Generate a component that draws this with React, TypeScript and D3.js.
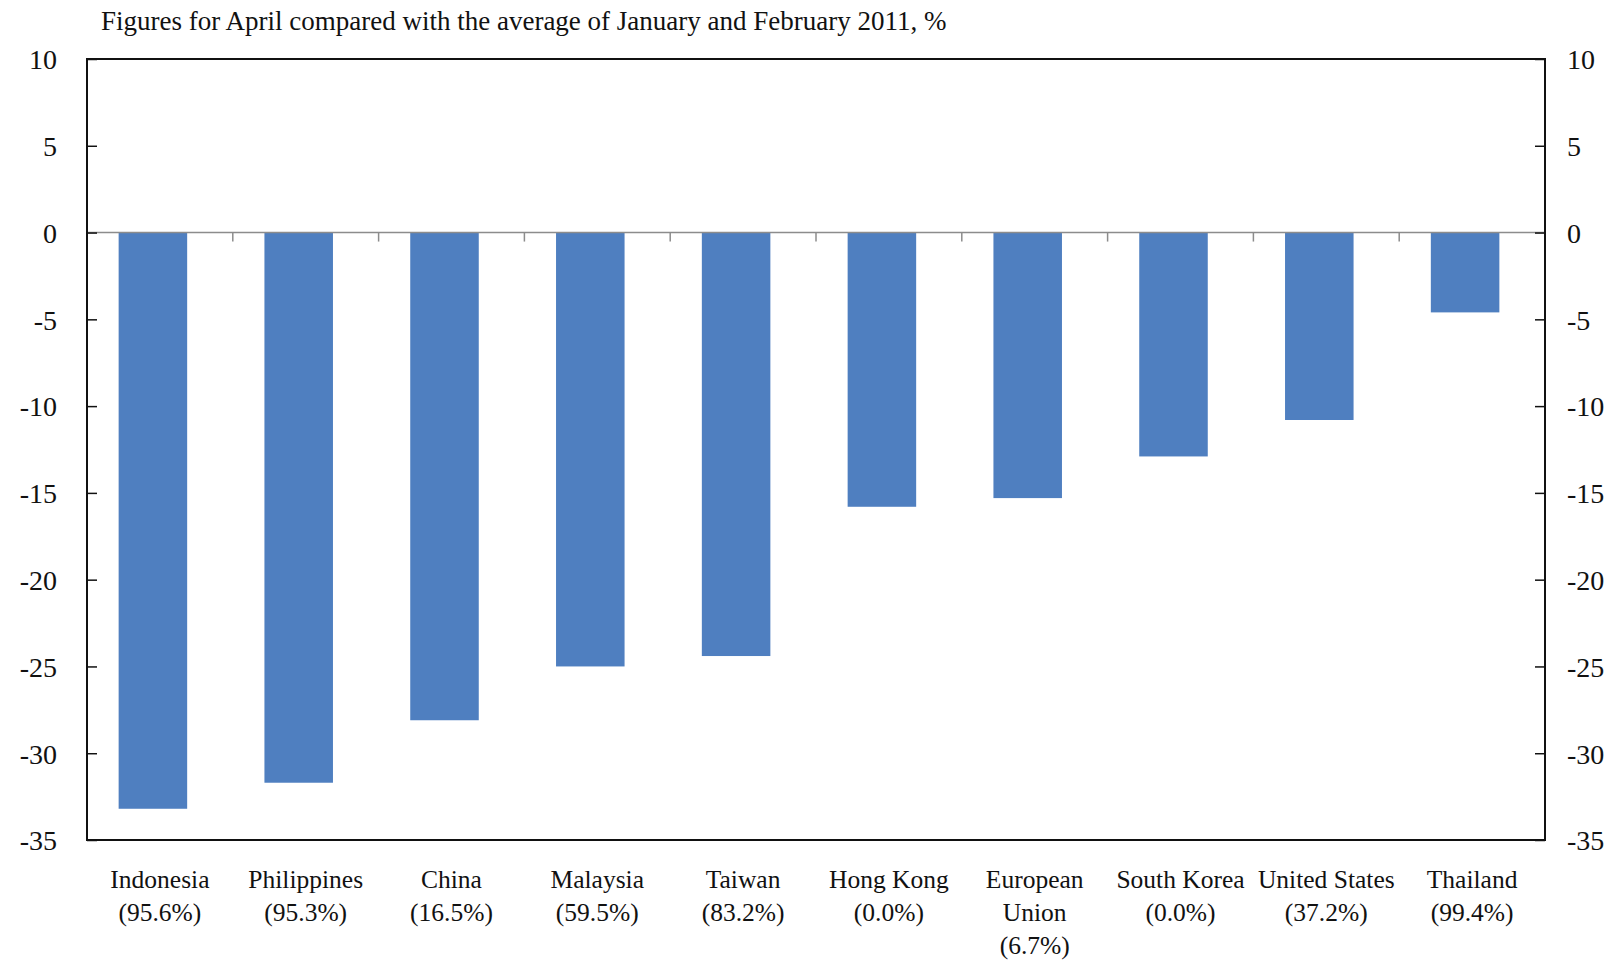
import { useEffect, useRef } from 'react';
import * as d3 from 'd3';

const countries = ['Indonesia', 'Philippines', 'China', 'Malaysia', 'Taiwan', 'Hong Kong', 'European Union', 'South Korea', 'United States', 'Thailand'];
const labelLines = [
  ['Indonesia', '(95.6%)'],
  ['Philippines', '(95.3%)'],
  ['China', '(16.5%)'],
  ['Malaysia', '(59.5%)'],
  ['Taiwan', '(83.2%)'],
  ['Hong Kong', '(0.0%)'],
  ['European', 'Union', '(6.7%)'],
  ['South Korea', '(0.0%)'],
  ['United States', '(37.2%)'],
  ['Thailand', '(99.4%)'],
];
const changes = [-33.2, -31.7, -28.1, -25.0, -24.4, -15.8, -15.3, -12.9, -10.8, -4.6];
const yTicks = [10, 5, 0, -5, -10, -15, -20, -25, -30, -35];

const W = 1619;
const H = 960;
const FONT = '"Liberation Serif", "DejaVu Serif", serif';

export default function App() {
  const svgRef = useRef<SVGSVGElement>(null);

  useEffect(() => {
    if (!svgRef.current) return;
    const svg = d3.select(svgRef.current);
    svg.selectAll('*').remove();

    const left = 87, right = 1545, top = 59, bottom = 840;

    const x = d3.scaleBand().domain(countries).range([left, right]).paddingInner(0.53).paddingOuter(0.265);
    const y = d3.scaleLinear().domain([-35, 10]).range([bottom, top]);
    const step = x.step();
    const barShift = -7; // bars sit a bit left of the label centres

    svg.append('rect').attr('width', W).attr('height', H).attr('fill', '#fff');

    // title
    svg.append('text')
      .attr('x', 101).attr('y', 30)
      .text('Figures for April compared with the average of January and February 2011, %')
      .style('font-family', FONT).style('font-size', '27px').style('fill', '#111');

    // bars
    svg.selectAll('rect.bar')
      .data(changes)
      .enter()
      .append('rect')
      .attr('class', 'bar')
      .attr('x', (_, i) => x(countries[i])! + barShift)
      .attr('width', x.bandwidth())
      .attr('y', d => y(Math.max(0, d)))
      .attr('height', d => Math.abs(y(d) - y(0)))
      .attr('fill', '#4f7fc0');

    // zero line + category ticks
    svg.append('line')
      .attr('x1', left).attr('x2', right).attr('y1', y(0)).attr('y2', y(0))
      .attr('stroke', '#8c8c8c').attr('stroke-width', 1.5);
    const bounds = d3.range(1, countries.length).map(i => left + i * step);
    svg.selectAll('line.ctick')
      .data(bounds)
      .enter()
      .append('line')
      .attr('class', 'ctick')
      .attr('x1', d => d).attr('x2', d => d)
      .attr('y1', y(0)).attr('y2', y(0) + 9)
      .attr('stroke', '#8c8c8c').attr('stroke-width', 1.5);

    // frame
    svg.append('rect')
      .attr('x', left).attr('y', top).attr('width', right - left).attr('height', bottom - top)
      .attr('fill', 'none').attr('stroke', '#111').attr('stroke-width', 2);

    // left axis
    const la = svg.append('g')
      .attr('transform', `translate(${left},0)`)
      .call(d3.axisRight(y).tickValues(yTicks).tickSize(10).tickFormat(d => String(d)));
    la.select('.domain').remove();
    la.selectAll('.tick line').attr('stroke', '#111').attr('stroke-width', 1.5);
    la.selectAll('.tick text')
      .attr('x', -30).attr('text-anchor', 'end').attr('dy', '0.35em')
      .style('font-family', FONT).style('font-size', '28px').style('fill', '#111');

    // right axis
    const ra = svg.append('g')
      .attr('transform', `translate(${right},0)`)
      .call(d3.axisLeft(y).tickValues(yTicks).tickSize(10).tickFormat(d => String(d)));
    ra.select('.domain').remove();
    ra.selectAll('.tick line').attr('stroke', '#111').attr('stroke-width', 1.5);
    ra.selectAll('.tick text')
      .attr('x', 22).attr('text-anchor', 'start').attr('dy', '0.35em')
      .style('font-family', FONT).style('font-size', '28px').style('fill', '#111');

    // category labels
    const lab = svg.selectAll('text.cat')
      .data(labelLines)
      .enter()
      .append('text')
      .attr('class', 'cat')
      .attr('text-anchor', 'middle')
      .style('font-family', FONT).style('font-size', '25.5px').style('fill', '#111');
    lab.each(function (lines, i) {
      const cx = x(countries[i])! + x.bandwidth() / 2;
      d3.select(this).selectAll('tspan')
        .data(lines)
        .enter()
        .append('tspan')
        .attr('x', cx)
        .attr('y', (_, j) => 888 + j * 33)
        .text(t => t);
    });
  }, []);

  return (
    <svg ref={svgRef} width={W} height={H}
      style={{ position: 'absolute', left: 0, top: 0, display: 'block' }} />
  );
}
